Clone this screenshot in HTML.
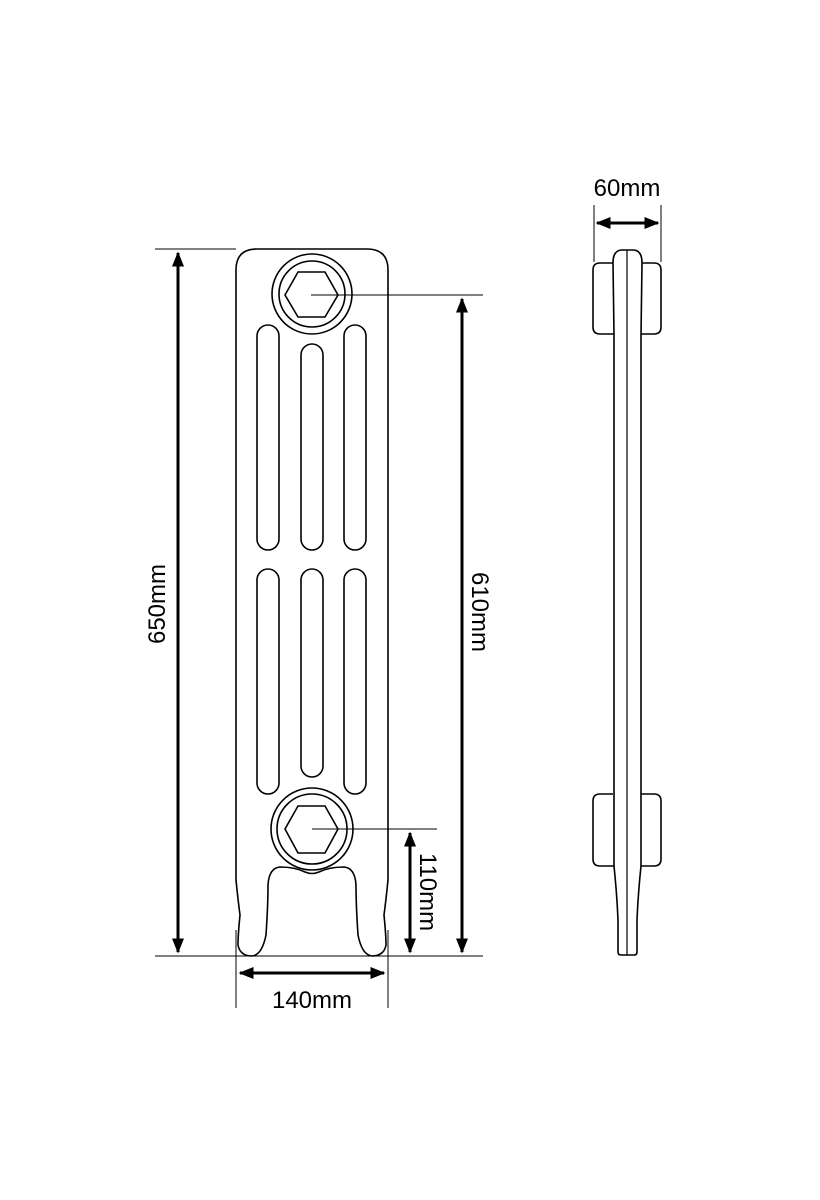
<!DOCTYPE html>
<html><head><meta charset="utf-8"><style>
html,body{margin:0;padding:0;background:#fff;}
svg{display:block;}
text{font-family:"Liberation Sans",Arial,sans-serif;font-size:24px;fill:#000;}
</style></head><body>
<svg width="820" height="1200" viewBox="0 0 820 1200" xmlns="http://www.w3.org/2000/svg">
<defs>
<marker id="ah" viewBox="0 0 10 10" refX="9" refY="5" markerWidth="5" markerHeight="5" orient="auto-start-reverse" markerUnits="strokeWidth">
<path d="M0,1 L10,5 L0,9 z" fill="#000"/>
</marker>
</defs>
<g fill="none" stroke="#000" stroke-width="1.6">
<path d="M236,270 Q236,249 257,249 L367,249 Q388,249 388,270 L388,880 Q386,900 384,915 Q386,935 386,945 Q384,956 372,956 Q362,955 358,935 Q356,905 356,885 Q355,868 344,867 Q329,867 319,872 Q312,875 305,872 Q295,867 280,867 Q269,868 268,885 Q268,905 266,935 Q262,955 252,956 Q240,956 238,945 Q238,935 240,915 Q238,900 236,880 Z"/>
<rect x="257" y="325" width="22" height="225" rx="11"/>
<rect x="301" y="344" width="22" height="206" rx="11"/>
<rect x="344" y="325" width="22" height="225" rx="11"/>
<rect x="257" y="569" width="22" height="225" rx="11"/>
<rect x="301" y="569" width="22" height="208" rx="11"/>
<rect x="344" y="569" width="22" height="225" rx="11"/>
<circle cx="312" cy="294" r="40" fill="#fff"/>
<circle cx="312" cy="294" r="33"/>
<path d="M285,295 L298,272 L325,272 L338,295 L325,317 L298,317 Z"/>
<circle cx="312" cy="829" r="41" fill="#fff"/>
<circle cx="312" cy="829" r="35"/>
<path d="M285,829 L298,806 L325,806 L338,829 L325,853 L298,853 Z"/>
</g>
<g stroke="#000" stroke-width="1" fill="none">
<line x1="311" y1="295" x2="483" y2="295"/>
<line x1="312" y1="829" x2="437" y2="829"/>
<line x1="155" y1="249" x2="236" y2="249"/>
<line x1="155" y1="956" x2="483" y2="956"/>
<line x1="236" y1="930" x2="236" y2="1008"/>
<line x1="388" y1="930" x2="388" y2="1008"/>
<line x1="594" y1="205" x2="594" y2="262"/>
<line x1="661" y1="205" x2="661" y2="262"/>
</g>
<g stroke="#000" stroke-width="3">
<line x1="178" y1="253" x2="178" y2="952" marker-start="url(#ah)" marker-end="url(#ah)"/>
<line x1="462" y1="299" x2="462" y2="952" marker-start="url(#ah)" marker-end="url(#ah)"/>
<line x1="410" y1="833" x2="410" y2="952" marker-start="url(#ah)" marker-end="url(#ah)"/>
<line x1="240" y1="973" x2="384" y2="973" marker-start="url(#ah)" marker-end="url(#ah)"/>
<line x1="597" y1="223" x2="658" y2="223" marker-start="url(#ah)" marker-end="url(#ah)"/>
</g>
<text x="312" y="1008" text-anchor="middle">140mm</text>
<text x="627" y="196" text-anchor="middle">60mm</text>
<text transform="translate(165,604) rotate(-90)" text-anchor="middle">650mm</text>
<text transform="translate(472,612) rotate(90)" text-anchor="middle">610mm</text>
<text transform="translate(420,892) rotate(90)" text-anchor="middle">110mm</text>
<g fill="none" stroke="#000" stroke-width="1.6">
<path d="M613,263 L600,263 Q593,263 593,270 L593,327 Q593,334 600,334 L614,334"/>
<path d="M642,263 L654,263 Q661,263 661,270 L661,327 Q661,334 654,334 L641,334"/>
<path d="M613,794 L600,794 Q593,794 593,801 L593,859 Q593,866 600,866 L614,866"/>
<path d="M641,794 L654,794 Q661,794 661,801 L661,859 Q661,866 654,866 L641,866"/>
<path d="M613,263 Q613,250 622,250 L633,250 Q642,250 642,263 L641,335 L641,866 Q638,895 637,920 L637,952 Q637,955 634,955 L621,955 Q618,955 618,952 L618,920 Q617,895 614,866 L614,335 Z"/>
<line x1="627" y1="250" x2="627" y2="955" stroke-width="1.2"/>
</g>
</svg>
</body></html>
